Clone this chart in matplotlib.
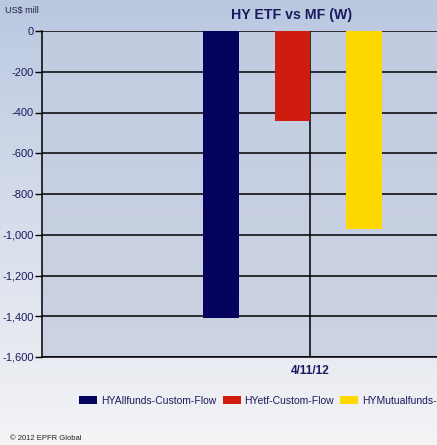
import numpy as np
import matplotlib
matplotlib.use("Agg")
import matplotlib.pyplot as plt
from matplotlib.patches import Patch
from matplotlib.ticker import FuncFormatter

# data
series = ["HYAllfunds-Custom-Flow", "HYetf-Custom-Flow", "HYMutualfunds-Custom-Flow"]
values = [-1410, -440, -970]
colors = ["#06035e", "#cf1c0e", "#fed800"]
date_label = "4/11/12"
yticks = [0, -200, -400, -600, -800, -1000, -1200, -1400, -1600]

txt = "#1a1a5e"
plt.rcParams['font.family'] = ['Liberation Sans', 'DejaVu Sans']

fig = plt.figure(figsize=(4.37, 4.45), dpi=100)

# figure background gradient
bg = fig.add_axes([0, 0, 1, 1], zorder=-10)
top = np.array([186, 200, 224]) / 255
bot = np.array([244, 244, 246]) / 255
t = np.linspace(0, 1, 256)[:, None]
grad = top * (1 - t) + bot * t
bg.imshow(grad[:, None, :].repeat(2, axis=1), aspect="auto", extent=[0, 1, 0, 1])
bg.set_axis_off()

ax = fig.add_axes([42 / 437, 88 / 445, 1 - 42 / 437, 326 / 445])
ax.set_facecolor("none")
# plot area gradient
ptop = np.array([193, 204, 225]) / 255
pbot = np.array([204, 211, 226]) / 255
pg = ptop * (1 - t) + pbot * t
ax.imshow(pg[:, None, :].repeat(2, axis=1), aspect="auto",
          extent=[-2.503, 3.021, -1600, 0], zorder=0)

x = np.arange(len(values))
ax.bar(x, values, width=0.5, color=colors, zorder=3)

ax.set_xlim(-2.503, 3.021)
ax.set_ylim(-1600, 0)
ax.set_yticks(yticks)
ax.yaxis.set_major_formatter(FuncFormatter(lambda v, p: f"{int(v):,}"))
ax.grid(axis="y", color="black", linewidth=1.1, zorder=1)
ax.set_xticks([x[1] + 0.25])
ax.set_xticklabels([date_label])
ax.grid(axis="x", color="black", linewidth=1.1, zorder=1)
ax.tick_params(axis="x", length=0, pad=6, labelsize=8.5, labelcolor=txt)
for lab in ax.get_xticklabels():
    lab.set_fontweight("bold")
ax.tick_params(axis="y", length=5, width=1, pad=1, labelsize=8, labelcolor=txt)
for s in ["top", "right"]:
    ax.spines[s].set_visible(False)
for s in ["left", "bottom"]:
    ax.spines[s].set_linewidth(1.1)
    ax.spines[s].set_zorder(4)

fig.text(292 / 437, 1 - 15 / 445, "HY ETF vs MF (W)", ha="center", va="center",
         fontsize=10.2, fontweight="bold", color=txt)
fig.text(5 / 437, 1 - 11 / 445, "US$ mill", ha="left", va="center",
         fontsize=6.5, color="#222244")
fig.text(10 / 437, 1 - 439 / 445, "\u00a9 2012 EPFR Global", ha="left", va="center",
         fontsize=5.5, color="#222222")

handles = [Patch(facecolor=c, edgecolor="none") for c in colors]
fig.legend(handles, series, loc="center left", bbox_to_anchor=(70 / 437, 1 - 401 / 445),
           ncol=3, frameon=False, fontsize=7.5, handlelength=1.73, handleheight=0.8,
           handletextpad=0.35, columnspacing=0.6, labelcolor=txt)

fig.savefig("out.png", dpi=100)
